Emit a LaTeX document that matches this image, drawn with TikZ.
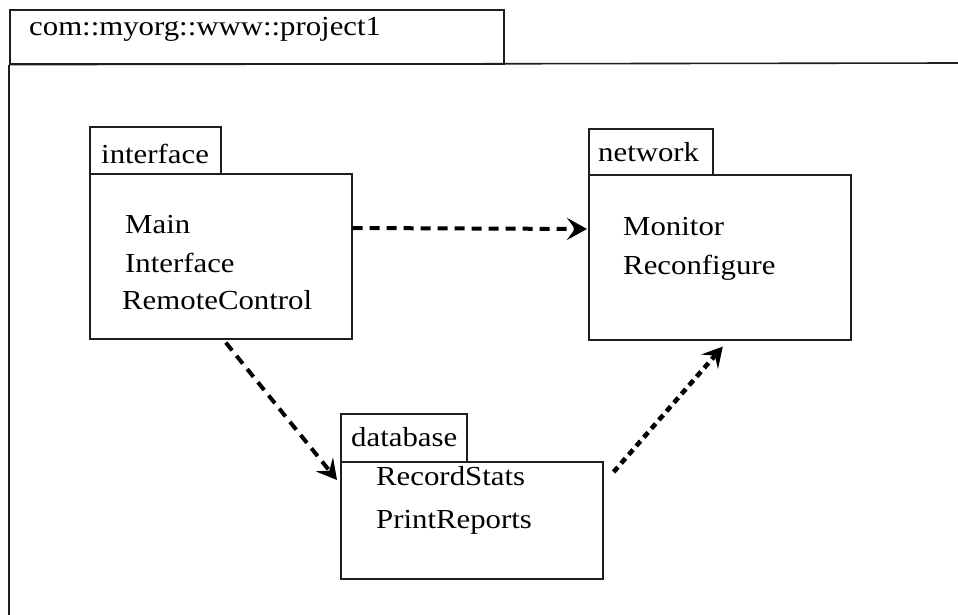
\documentclass[tikz,border=0pt]{standalone}
\usepackage{fontspec}
\setmainfont{Liberation Serif}
\usetikzlibrary{arrows.meta,calc}
\definecolor{ink}{RGB}{30,30,30}
\newcommand{\wtxt}[1]{\scalebox{1.12}[1]{#1}}
\begin{document}
\begin{tikzpicture}[x=1pt,y=-1pt,
  boxline/.style={draw=ink,line width=1.6pt},
  pkgbox/.style={boxline,rectangle,inner sep=0pt,anchor=north west},
  lbl/.style={anchor=base west,inner sep=0pt,text=black,font=\fontsize{27.5}{32}\selectfont},
  dep/.style={draw=black,line width=4pt,-{Stealth[length=20pt,width=22pt,inset=8pt]}},
  depA/.style={dep,dash pattern=on 10pt off 7pt},
  depB/.style={dep,dash pattern=on 6.5pt off 5pt,line width=4.6pt}]
\useasboundingbox (0,0) rectangle (958,615);
\fill[white] (0,0) rectangle (958,615);
% outer package
\node[pkgbox,minimum width=494pt,minimum height=54pt] (otab) at (9,9) {};
\coordinate (oright) at (958,63);
\coordinate (obot) at (9,615);
\draw[boxline] (otab.south west) -- (oright);
\draw[boxline] (otab.south west) -- (obot);
\node[lbl] (otitle) at (29,36) {\wtxt{com::myorg::www::project1}};
% interface package
\node[pkgbox,minimum width=131pt,minimum height=47pt] (itab) at (89,126) {};
\node[pkgbox,minimum width=262pt,minimum height=165pt] (ibody) at (89,173) {};
\node[lbl] (itl) at (101,163) {\wtxt{interface}};
\node[lbl] (i1) at (125,233) {\wtxt{Main}};
\node[lbl] (i2) at (125,272) {\wtxt{Interface}};
\node[lbl] (i3) at (122,309) {\wtxt{RemoteControl}};
% network package
\node[pkgbox,minimum width=124pt,minimum height=46pt] (ntab) at (588,128) {};
\node[pkgbox,minimum width=262pt,minimum height=165pt] (nbody) at (588,174) {};
\node[lbl] (ntl) at (598,161) {\wtxt{network}};
\node[lbl] (n1) at (623,235) {\wtxt{Monitor}};
\node[lbl] (n2) at (623,274) {\wtxt{Reconfigure}};
% database package
\node[pkgbox,minimum width=126pt,minimum height=48pt] (dtab) at (340,413) {};
\node[pkgbox,minimum width=262pt,minimum height=117pt] (dbody) at (340,461) {};
\node[lbl] (dtl) at (351,446) {\wtxt{database}};
\node[lbl] (d1) at (376,485) {\wtxt{RecordStats}};
\node[lbl] (d2) at (376,528) {\wtxt{PrintReports}};
% dependencies
\draw[depA] ([yshift=-55pt]ibody.north east) -- ([xshift=-1pt,yshift=-55pt]nbody.north west);
\draw[depA] ([xshift=5pt,yshift=-3pt]ibody.south) -- ([xshift=-3pt,yshift=-19pt]dbody.north west);
\draw[depB] ([xshift=10pt,yshift=-11pt]dbody.north east) -- ([xshift=3pt,yshift=-6pt]nbody.south);
\end{tikzpicture}
\end{document}
